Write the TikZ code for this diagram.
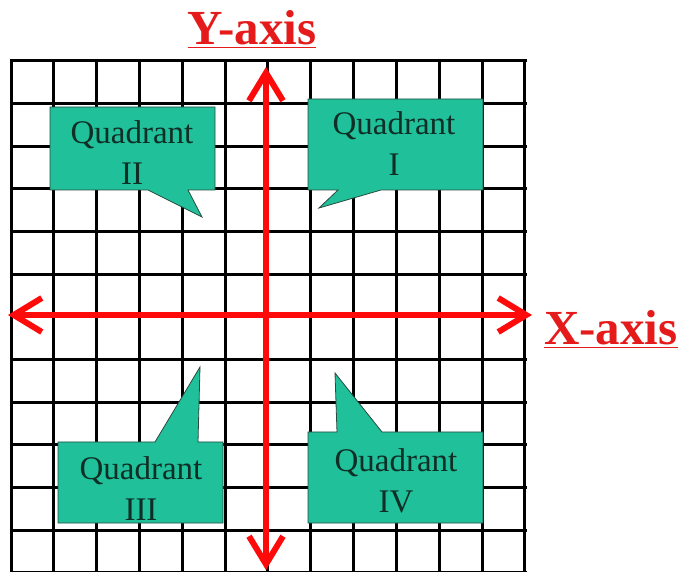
\documentclass[tikz,border=0pt]{standalone}
\usepackage{fontspec}
\setmainfont{Liberation Serif}
\usetikzlibrary{arrows.meta}
\definecolor{axisred}{HTML}{FF0A0A}
\definecolor{lblred}{HTML}{E51B1B}
\definecolor{callfill}{HTML}{20C09A}
\definecolor{callline}{HTML}{2A4A40}
\definecolor{calltext}{HTML}{0F2E25}
\tikzset{
  gridline/.style={draw=black, line width=3pt, line cap=rect},
  axisline/.style={draw=axisred, line width=6pt,
                   {Straight Barb[length=28pt,width=34pt]}-{Straight Barb[length=28pt,width=34pt]}},
  callout/.style={fill=callfill, draw=callline, line width=0.8pt},
  qlbl/.style={font=\fontsize{33}{41}\selectfont, text=calltext, align=center, inner sep=0pt, anchor=base},
  axlbl/.style={font=\fontsize{49}{58}\selectfont\bfseries, text=lblred, inner sep=0pt, anchor=base}
}

\begin{document}
\begin{tikzpicture}[x=1pt, y=-1pt]
 \useasboundingbox (0,0) rectangle (681,572);
 % grid
 \foreach \i in {0,...,12} {
   \draw[gridline] (11+42.83*\i,61) -- (11+42.83*\i,574);
   \draw[gridline] (11,61+42.64*\i) -- (525,61+42.64*\i);
 }
 % callouts
 \path[callout] (308,99) -- (483,99) -- (483,190) -- (381,190) -- (319,208) -- (338,190) -- (308,190) -- cycle;
 \path[callout] (50,107) -- (215,107) -- (215,190) -- (188,190) -- (202,217) -- (148,190) -- (50,190) -- cycle;
 \path[callout] (58,442) -- (155,442) -- (200,367) -- (198,442) -- (223,442) -- (223,523) -- (58,523) -- cycle;
 \path[callout] (308,432) -- (337,432) -- (335,373) -- (382,432) -- (483,432) -- (483,523) -- (308,523) -- cycle;
 \node[qlbl] (q1) at (394,176) {Quadrant\\I};
 \node[qlbl] (q2) at (132,185) {Quadrant\\II};
 \node[qlbl] (q3) at (141,520) {Quadrant\\III};
 \node[qlbl] (q4) at (396,512) {Quadrant\\IV};
 % axes
 \coordinate (ytop) at (266,67);
 \coordinate (ybot) at (266,570);
 \coordinate (xleft) at (8,315);
 \coordinate (xright) at (532,315);
 \draw[axisline] (ybot) -- (ytop);
 \draw[axisline] (xleft) -- (xright);
 \node[axlbl] (ylabel) at (252,45) {\underline{Y-axis}};
 \node[axlbl, anchor=base west] (xlabel) at (544,345) {\underline{X-axis}};
\end{tikzpicture}
\end{document}
